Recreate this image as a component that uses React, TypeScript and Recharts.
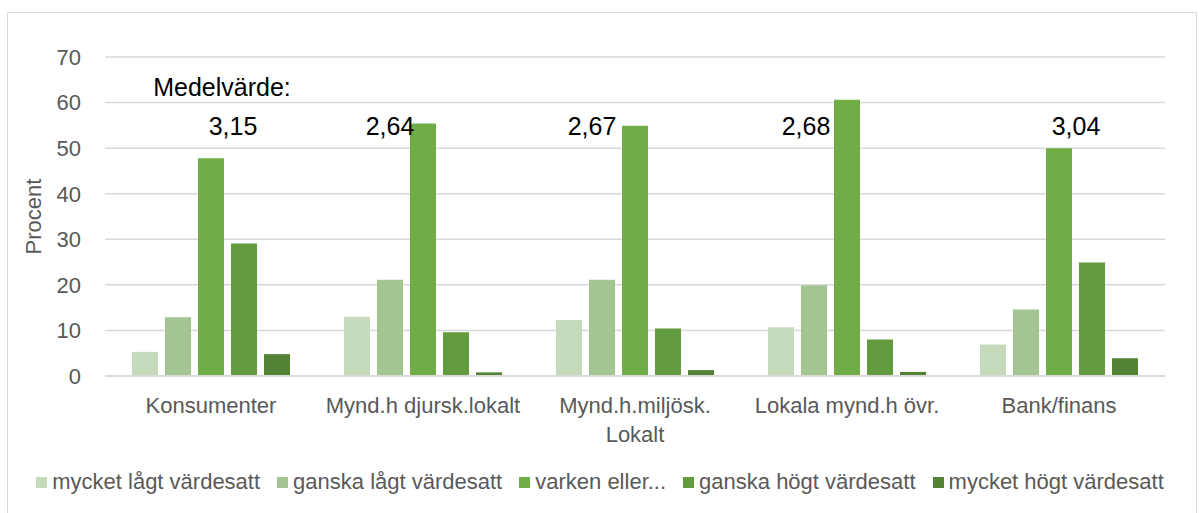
import React from "react";
import {
  BarChart,
  Bar,
  XAxis,
  YAxis,
  CartesianGrid,
  Legend,
  LabelList,
} from "recharts";

const categories = [
  "Konsumenter",
  "Mynd.h djursk.lokalt",
  "Mynd.h.miljösk.\nLokalt",
  "Lokala mynd.h övr.",
  "Bank/finans",
];

const mycketLagt = [5.3, 13.0, 12.3, 10.7, 6.9];
const ganskaLagt = [12.9, 21.1, 21.1, 19.9, 14.6];
const varkenEller = [47.8, 55.4, 54.9, 60.6, 50.0];
const ganskaHogt = [29.1, 9.6, 10.4, 8.0, 24.9];
const mycketHogt = [4.8, 0.8, 1.3, 0.9, 3.9];

const medelvarden = ["3,15", "2,64", "2,67", "2,68", "3,04"];

const seriesNames = [
  "mycket lågt värdesatt",
  "ganska lågt värdesatt",
  "varken eller...",
  "ganska högt värdesatt",
  "mycket högt värdesatt",
];
const seriesKeys = ["s1", "s2", "s3", "s4", "s5"];
const colors = ["#c5d9bb", "#a3c592", "#70ad47", "#629a3e", "#548235"];

// horizontal nudge of each mean label from its group centre (px)
const meanDx = [22, -33, -43, -41, 17];

const data = categories.map((name, i) => ({
  name,
  s1: mycketLagt[i],
  s2: ganskaLagt[i],
  s3: varkenEller[i],
  s4: ganskaHogt[i],
  s5: mycketHogt[i],
}));

const FONT = '"Liberation Sans Narrow", "Liberation Sans", Arial, sans-serif';

const CategoryTick = (props: any) => {
  const { x, y, payload } = props;
  const lines = String(payload.value).split("\n");
  return (
    <g transform={`translate(${x},${y})`}>
      {lines.map((l, i) => (
        <text
          key={i}
          x={0}
          y={i * 29}
          dy={29}
          textAnchor="middle"
          fill="#595959"
          fontSize={22}
          fontFamily={FONT}
        >
          {l}
        </text>
      ))}
    </g>
  );
};

const MeanLabel = (props: any) => {
  const { x, y, width, height, value, index } = props;
  const base = y + height;
  const ppu = height / value;
  const cx = x + width / 2;
  return (
    <g>
      {index === 0 && (
        <text
          x={cx + 11}
          y={base - 63.2 * ppu}
          dy={8}
          textAnchor="middle"
          fill="#000"
          fontSize={25}
          fontFamily={FONT}
        >
          Medelvärde:
        </text>
      )}
      <text
        x={cx + meanDx[index]}
        y={base - 54.6 * ppu}
        dy={8}
        textAnchor="middle"
        fill="#000"
        fontSize={25}
        fontFamily={FONT}
      >
        {medelvarden[index]}
      </text>
    </g>
  );
};

const LegendContent = () => (
  <div
    style={{
      display: "flex",
      justifyContent: "center",
      gap: 17,
      fontFamily: FONT,
      fontSize: 22,
      color: "#595959",
    }}
  >
    {seriesNames.map((n, i) => (
      <div key={n} style={{ display: "flex", alignItems: "center" }}>
        <span
          style={{
            display: "inline-block",
            width: 11,
            height: 11,
            background: colors[i],
            marginRight: 5,
          }}
        />
        <span>{n}</span>
      </div>
    ))}
  </div>
);

export default function App() {
  return (
    <div
      style={{
        position: "absolute",
        left: 0,
        top: 0,
        width: 1200,
        height: 513,
        background: "#fff",
        overflow: "hidden",
      }}
    >
      <div
        style={{
          position: "absolute",
          left: 7,
          top: 12,
          width: 1188,
          height: 520,
          border: "1.5px solid #d9d9d9",
        }}
      />
      <div style={{ position: "absolute", left: 0, top: 0 }}>
        <BarChart
          width={1200}
          height={513}
          data={data}
          margin={{ top: 57, right: 35, bottom: 81, left: 25 }}
          barSize={26}
          barGap={7}
        >
          <CartesianGrid vertical={false} stroke="#d9d9d9" strokeWidth={1.5} />
          <XAxis
            dataKey="name"
            tick={<CategoryTick />}
            tickLine={false}
            axisLine={{ stroke: "#d9d9d9", strokeWidth: 2 }}
            interval={0}
          />
          <YAxis
            width={80}
            domain={[0, 70]}
            ticks={[0, 10, 20, 30, 40, 50, 60, 70]}
            tickLine={false}
            axisLine={false}
            tickMargin={18}
            tick={{ fill: "#595959", fontSize: 22, fontFamily: FONT }}
            label={{
              value: "Procent",
              angle: -90,
              position: "insideLeft",
              offset: 8,
              style: {
                textAnchor: "middle",
                fill: "#595959",
                fontSize: 22,
                fontFamily: FONT,
              },
            }}
          />
          <Legend
            verticalAlign="bottom"
            content={<LegendContent />}
            wrapperStyle={{ bottom: 18, left: 0, width: 1200 }}
          />
          {seriesKeys.map((k, i) => (
            <Bar
              key={k}
              dataKey={k}
              name={seriesNames[i]}
              fill={colors[i]}
              isAnimationActive={false}
            >
              {k === "s3" && (
                <LabelList dataKey={k} content={<MeanLabel />} />
              )}
            </Bar>
          ))}
        </BarChart>
      </div>
    </div>
  );
}
